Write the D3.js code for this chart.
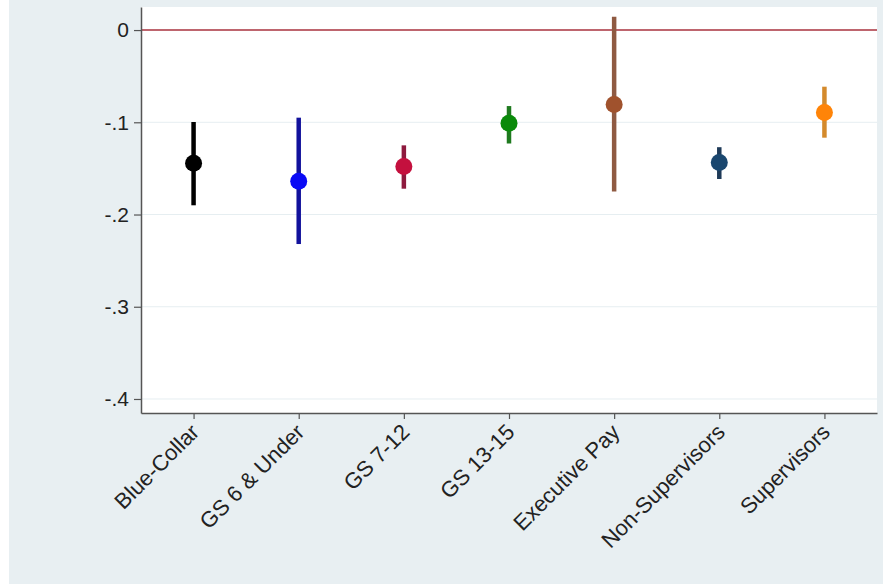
<!DOCTYPE html>
<html>
<head>
<meta charset="utf-8">
<script src="https://cdn.jsdelivr.net/npm/d3@7"></script>
<style>
  body { margin: 0; background: #fff; }
  text { font-family: "Liberation Sans", Arial, sans-serif; }
</style>
</head>
<body>
<script>
// data: point estimates with confidence interval bounds
var categories = ["Blue-Collar", "GS 6 & Under", "GS 7-12", "GS 13-15", "Executive Pay", "Non-Supervisors", "Supervisors"];
var estimates = [-0.1445, -0.164, -0.148, -0.101, -0.0806, -0.1435, -0.0893];
var lower = [-0.190, -0.232, -0.172, -0.123, -0.175, -0.1615, -0.1167];
var upper = [-0.0997, -0.095, -0.125, -0.0824, 0.0145, -0.127, -0.0614];
var yTicks = [0, -0.1, -0.2, -0.3, -0.4];
var yTickLabels = ["0", "-.1", "-.2", "-.3", "-.4"];

var markerColors = ["#000000", "#0a0af5", "#c4103e", "#0a8a0a", "#a0522d", "#1a476f", "#ff8408"];
var lineColors = ["#000000", "#12129c", "#8e1a3e", "#1f7a1f", "#8f5a42", "#1e3a58", "#d48a2c"];

var width = 883, height = 585;
var margin = {top: 7, right: 6, bottom: 172, left: 141};

var svg = d3.select("body").append("svg")
    .attr("width", width)
    .attr("height", height);

// outer background
svg.append("rect")
    .attr("x", 9).attr("y", 0)
    .attr("width", width - 9).attr("height", 584)
    .attr("fill", "#e8eff2");

var plotW = width - margin.left - margin.right,
    plotH = height - margin.top - margin.bottom;

var g = svg.append("g")
    .attr("transform", "translate(" + margin.left + "," + margin.top + ")");

var x = d3.scalePoint()
    .domain(categories)
    .range([0, plotW])
    .padding(0.5);
var y = d3.scaleLinear()
    .domain([0.025, -0.4152])
    .range([0, plotH]);

// plot region
g.append("rect")
    .attr("width", plotW)
    .attr("height", plotH)
    .attr("fill", "#ffffff");

// gridlines
g.selectAll(".grid")
    .data(yTicks.filter(function(d) { return d !== 0; }))
    .enter().append("line")
    .attr("x1", 0).attr("x2", plotW)
    .attr("y1", function(d) { return y(d); })
    .attr("y2", function(d) { return y(d); })
    .attr("stroke", "#e6eef1")
    .attr("stroke-width", 1);

// reference line at zero
g.append("line")
    .attr("x1", 0).attr("x2", plotW)
    .attr("y1", y(0)).attr("y2", y(0))
    .attr("stroke", "#a8323e")
    .attr("stroke-width", 1.6);

// y axis
var yAxis = g.append("g")
    .call(d3.axisLeft(y).tickValues(yTicks)
        .tickFormat(function(d, i) { return yTickLabels[i]; })
        .tickSize(7).tickSizeOuter(0).tickPadding(5));
yAxis.select(".domain").attr("stroke", "#555").attr("stroke-width", 1.5);
yAxis.selectAll(".tick line").attr("stroke", "#555").attr("stroke-width", 1.2);
yAxis.selectAll(".tick text")
    .style("font-size", "21px")
    .attr("fill", "#222")
    .style("font-family", "'Liberation Sans', Arial, sans-serif");

// x axis
var xAxis = g.append("g")
    .attr("transform", "translate(0," + plotH + ")")
    .call(d3.axisBottom(x).tickSize(6).tickSizeOuter(0).tickPadding(4));
xAxis.select(".domain").attr("stroke", "#555").attr("stroke-width", 1.5);
xAxis.selectAll(".tick line").attr("stroke", "#555").attr("stroke-width", 1.2);
xAxis.selectAll(".tick text")
    .style("font-size", "22px")
    .attr("fill", "#222")
    .style("font-family", "'Liberation Sans', Arial, sans-serif")
    .attr("text-anchor", "end")
    .attr("dy", "0.35em")
    .attr("transform", "translate(1,15) rotate(-45)")
    .attr("y", 0).attr("x", 0);

// confidence intervals
g.selectAll(".ci")
    .data(categories)
    .enter().append("line")
    .attr("class", "ci")
    .attr("x1", function(d) { return x(d); })
    .attr("x2", function(d) { return x(d); })
    .attr("y1", function(d, i) { return y(upper[i]); })
    .attr("y2", function(d, i) { return y(lower[i]); })
    .attr("stroke", function(d, i) { return lineColors[i]; })
    .attr("stroke-width", 4.5);

// point estimates
g.selectAll(".pt")
    .data(categories)
    .enter().append("circle")
    .attr("class", "pt")
    .attr("cx", function(d) { return x(d); })
    .attr("cy", function(d, i) { return y(estimates[i]); })
    .attr("r", 8.5)
    .attr("fill", function(d, i) { return markerColors[i]; });
</script>
</body>
</html>
